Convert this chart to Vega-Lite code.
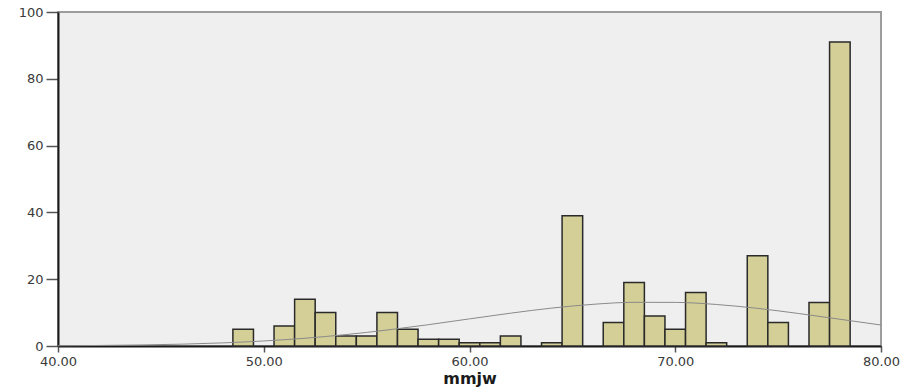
{
  "$schema": "https://vega.github.io/schema/vega-lite/v6.json",
  "autosize": {"type": "none"},
  "width": 823,
  "height": 334,
  "padding": {"left": 58, "top": 12, "right": 22, "bottom": 43},
  "background": "white",
  "config": {
    "view": {"fill": "#EFEFEF", "stroke": "#9C9C9C", "strokeWidth": 2},
    "axis": {
      "labelFont": "DejaVu Sans",
      "labelFontSize": 13,
      "labelColor": "#3a3a3a",
      "domainColor": "#1a1a1a",
      "domainWidth": 2,
      "tickColor": "#555555",
      "tickWidth": 1.5,
      "grid": false
    }
  },
  "datasets": {
    "bins": [
      {"start": 48.5, "end": 49.5, "count": 5},
      {"start": 50.5, "end": 51.5, "count": 6},
      {"start": 51.5, "end": 52.5, "count": 14},
      {"start": 52.5, "end": 53.5, "count": 10},
      {"start": 53.5, "end": 54.5, "count": 3},
      {"start": 54.5, "end": 55.5, "count": 3},
      {"start": 55.5, "end": 56.5, "count": 10},
      {"start": 56.5, "end": 57.5, "count": 5},
      {"start": 57.5, "end": 58.5, "count": 2},
      {"start": 58.5, "end": 59.5, "count": 2},
      {"start": 59.5, "end": 60.5, "count": 1},
      {"start": 60.5, "end": 61.5, "count": 1},
      {"start": 61.5, "end": 62.5, "count": 3},
      {"start": 63.5, "end": 64.5, "count": 1},
      {"start": 64.5, "end": 65.5, "count": 39},
      {"start": 66.5, "end": 67.5, "count": 7},
      {"start": 67.5, "end": 68.5, "count": 19},
      {"start": 68.5, "end": 69.5, "count": 9},
      {"start": 69.5, "end": 70.5, "count": 5},
      {"start": 70.5, "end": 71.5, "count": 16},
      {"start": 71.5, "end": 72.5, "count": 1},
      {"start": 73.5, "end": 74.5, "count": 27},
      {"start": 74.5, "end": 75.5, "count": 7},
      {"start": 76.5, "end": 77.5, "count": 13},
      {"start": 77.5, "end": 78.5, "count": 91}
    ],
    "curve": [
      {"x": 40, "y": 0.08},
      {"x": 42, "y": 0.16},
      {"x": 44, "y": 0.31},
      {"x": 46, "y": 0.55},
      {"x": 48, "y": 0.93},
      {"x": 50, "y": 1.51},
      {"x": 52, "y": 2.32},
      {"x": 54, "y": 3.42},
      {"x": 56, "y": 4.79},
      {"x": 58, "y": 6.38},
      {"x": 60, "y": 8.12},
      {"x": 62, "y": 9.83},
      {"x": 64, "y": 11.35},
      {"x": 66, "y": 12.48},
      {"x": 68, "y": 13.08},
      {"x": 70, "y": 13.06},
      {"x": 72, "y": 12.43},
      {"x": 74, "y": 11.27},
      {"x": 76, "y": 9.73},
      {"x": 78, "y": 8.01},
      {"x": 80, "y": 6.28}
    ]
  },
  "layer": [
    {
      "data": {"name": "bins"},
      "mark": {"type": "rect", "fill": "#D3CF96", "stroke": "#2a2a2a", "strokeWidth": 1.5},
      "encoding": {
        "x": {
          "field": "start", "type": "quantitative",
          "scale": {"domain": [40, 80], "nice": false, "zero": false},
          "axis": {
            "values": [40, 50, 60, 70, 80],
            "format": ".2f",
            "tickSize": 6,
            "labelPadding": 3,
            "labelFlush": false,
            "labelOverlap": false,
            "title": "mmjw",
            "titleFont": "DejaVu Sans",
            "titleFontSize": 16,
            "titleFontWeight": "bold",
            "titleColor": "#1a1a1a",
            "titlePadding": 2
          }
        },
        "x2": {"field": "end"},
        "y": {
          "field": "count", "type": "quantitative",
          "scale": {"domain": [0, 100], "nice": false},
          "axis": {
            "values": [0, 20, 40, 60, 80, 100],
            "tickSize": 12,
            "labelPadding": 3,
            "labelFlush": false,
            "labelOverlap": false,
            "title": null
          }
        },
        "y2": {"datum": 0}
      }
    },
    {
      "data": {"name": "curve"},
      "mark": {"type": "line", "interpolate": "monotone", "color": "#8a8a8a", "strokeWidth": 1},
      "encoding": {
        "x": {"field": "x", "type": "quantitative"},
        "y": {"field": "y", "type": "quantitative"}
      }
    }
  ]
}
